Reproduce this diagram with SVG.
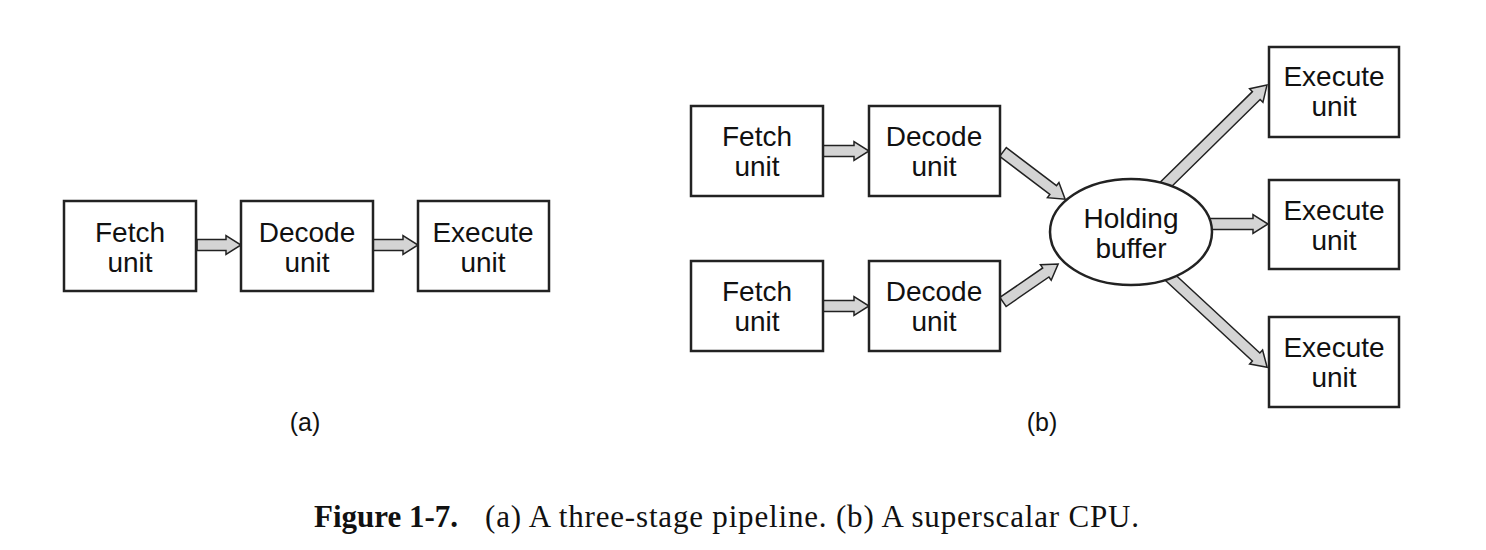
<svg xmlns="http://www.w3.org/2000/svg" width="1486" height="550" viewBox="0 0 1486 550">
<style>
.box{fill:#fff;stroke:#222;stroke-width:2.5}
.lbl{font-family:"Liberation Sans",Arial,sans-serif;font-size:28px;fill:#111;text-anchor:middle}
.sub{font-family:"Liberation Sans",Arial,sans-serif;font-size:25px;fill:#111;text-anchor:middle}
.arr{fill:#d4d4d4;stroke:#222;stroke-width:1.5;stroke-linejoin:miter}
.cap{font-family:"Liberation Serif","Times New Roman",serif;font-size:31px;fill:#111}
</style>
<rect width="1486" height="550" fill="#fff"/>
<g id="connectors">
  <path class="arr" transform="translate(197,245)" d="M0,-5.5 H29 V-9.5 L44,0 L29,9.5 V5.5 H0 Z"/>
  <path class="arr" transform="translate(373,245)" d="M0,-5.5 H30 V-9.5 L45,0 L30,9.5 V5.5 H0 Z"/>
  <path class="arr" transform="translate(823,151)" d="M0,-5.5 H31 V-9.5 L46,0 L31,9.5 V5.5 H0 Z"/>
  <path class="arr" transform="translate(823,306)" d="M0,-5.5 H31 V-9.5 L46,0 L31,9.5 V5.5 H0 Z"/>
  <path class="arr" transform="translate(1003,152) rotate(37.2)" d="M0,-5.5 H63 V-9.5 L78,0 L63,9.5 V5.5 H0 Z"/>
  <path class="arr" transform="translate(1003,302) rotate(-34.6)" d="M0,-5.5 H52 V-9.5 L67,0 L52,9.5 V5.5 H0 Z"/>
  <path class="arr" transform="translate(1150,200) rotate(-44.5)" d="M0,-5.5 H149 V-9.5 L164,0 L149,9.5 V5.5 H0 Z"/>
  <path class="arr" transform="translate(1200,224)" d="M0,-5.5 H53 V-9.5 L68,0 L53,9.5 V5.5 H0 Z"/>
  <path class="arr" transform="translate(1160,268) rotate(42.8)" d="M0,-5.5 H131 V-9.5 L146,0 L131,9.5 V5.5 H0 Z"/>
</g>
<g id="a-fetch"><rect class="box" x="64" y="201" width="132" height="90"/><text class="lbl" x="130" y="242">Fetch</text><text class="lbl" x="130" y="272">unit</text></g>
<g id="a-decode"><rect class="box" x="241" y="201" width="132" height="90"/><text class="lbl" x="307" y="242">Decode</text><text class="lbl" x="307" y="272">unit</text></g>
<g id="a-execute"><rect class="box" x="418" y="201" width="131" height="90"/><text class="lbl" x="483" y="242">Execute</text><text class="lbl" x="483" y="272">unit</text></g>
<g id="b-fetch1"><rect class="box" x="691" y="106" width="132" height="90"/><text class="lbl" x="757" y="146">Fetch</text><text class="lbl" x="757" y="176">unit</text></g>
<g id="b-decode1"><rect class="box" x="869" y="106" width="131" height="90"/><text class="lbl" x="934" y="146">Decode</text><text class="lbl" x="934" y="176">unit</text></g>
<g id="b-fetch2"><rect class="box" x="691" y="261" width="132" height="90"/><text class="lbl" x="757" y="301">Fetch</text><text class="lbl" x="757" y="331">unit</text></g>
<g id="b-decode2"><rect class="box" x="869" y="261" width="131" height="90"/><text class="lbl" x="934" y="301">Decode</text><text class="lbl" x="934" y="331">unit</text></g>
<g id="b-buffer"><ellipse class="box" cx="1131" cy="232" rx="81" ry="53"/><text class="lbl" x="1131" y="228">Holding</text><text class="lbl" x="1131" y="258">buffer</text></g>
<g id="b-exec1"><rect class="box" x="1269" y="47" width="130" height="90"/><text class="lbl" x="1334" y="86">Execute</text><text class="lbl" x="1334" y="116">unit</text></g>
<g id="b-exec2"><rect class="box" x="1269" y="180" width="130" height="89"/><text class="lbl" x="1334" y="220">Execute</text><text class="lbl" x="1334" y="250">unit</text></g>
<g id="b-exec3"><rect class="box" x="1269" y="317" width="130" height="90"/><text class="lbl" x="1334" y="357">Execute</text><text class="lbl" x="1334" y="387">unit</text></g>
<text class="sub" x="305" y="431">(a)</text>
<text class="sub" x="1042" y="431">(b)</text>
<text class="cap" y="527"><tspan x="314" font-weight="bold">Figure 1-7.</tspan><tspan x="485" textLength="654" lengthAdjust="spacing">(a) A three-stage pipeline. (b) A superscalar CPU.</tspan></text>
</svg>
